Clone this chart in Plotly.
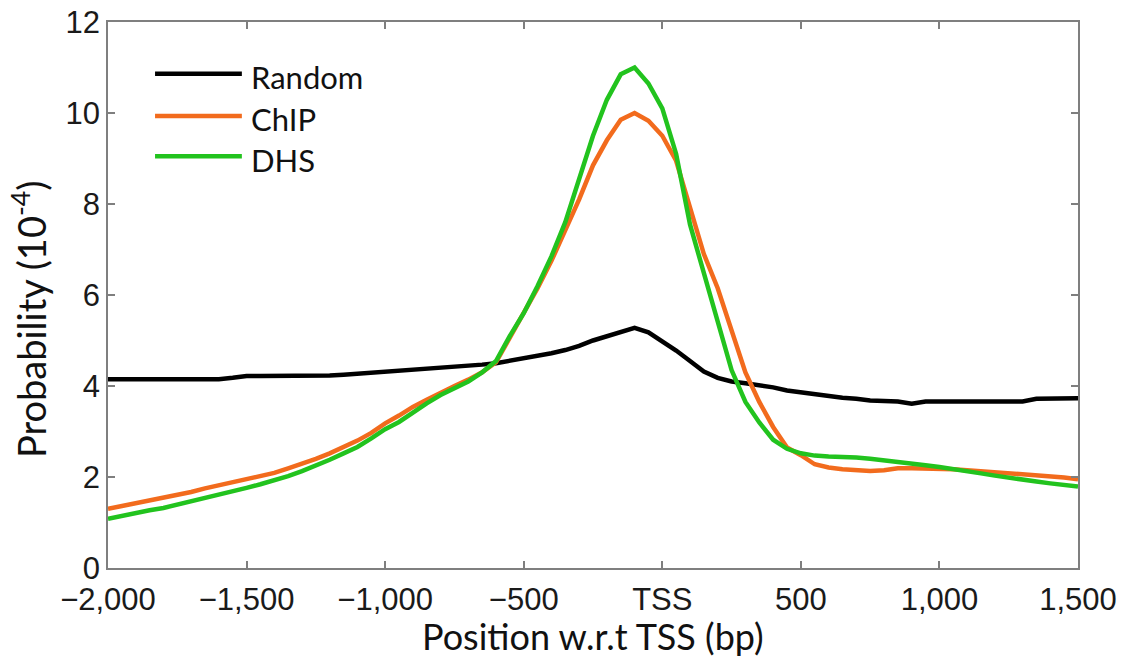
import plotly.graph_objects as go

# ---------------- data ----------------
positions = list(range(-2000, 1501, 50))

random_vals = [
    4.15, 4.15, 4.15, 4.15, 4.15, 4.15, 4.15, 4.15, 4.15, 4.18,   # -2000 .. -1550
    4.22, 4.22, 4.22, 4.22, 4.22, 4.22, 4.23, 4.25, 4.27, 4.29,   # -1500 .. -1050
    4.31, 4.34, 4.36, 4.38, 4.40, 4.42, 4.44, 4.47, 4.50, 4.55,   # -1000 .. -550
    4.60, 4.66, 4.72, 4.79, 4.88, 5.00, 5.10, 5.19, 5.28, 5.18,   # -500 .. -50
    4.98, 4.78, 4.55, 4.32, 4.18, 4.10, 4.06, 4.02, 3.97, 3.90,   # 0 .. 450
    3.86, 3.81, 3.77, 3.74, 3.72, 3.68, 3.67, 3.66, 3.61, 3.66,   # 500 .. 950
    3.66, 3.66, 3.66, 3.66, 3.66, 3.66, 3.66, 3.72, 3.73, 3.73,   # 1000 .. 1450
    3.73,                                                          # 1500
]

chip_vals = [
    1.30, 1.36, 1.42, 1.47, 1.53, 1.60, 1.67, 1.75, 1.82, 1.90,   # -2000 .. -1550
    1.97, 2.03, 2.09, 2.19, 2.29, 2.40, 2.52, 2.65, 2.80, 2.97,   # -1500 .. -1050
    3.18, 3.35, 3.54, 3.70, 3.86, 4.00, 4.14, 4.30, 4.52, 5.05,   # -1000 .. -550
    5.60, 6.15, 6.75, 7.40, 8.10, 8.85, 9.40, 9.85, 10.00, 9.83,  # -500 .. -50
    9.50, 8.95, 7.95, 6.90, 6.15, 5.20, 4.30, 3.65, 3.10, 2.65,   # 0 .. 450
    2.48, 2.28, 2.21, 2.17, 2.14, 2.13, 2.15, 2.19, 2.19, 2.19,   # 500 .. 950
    2.19, 2.17, 2.15, 2.13, 2.11, 2.09, 2.07, 2.04, 2.01, 1.99,   # 1000 .. 1450
    1.95,                                                          # 1500
]

dhs_vals = [
    1.08, 1.15, 1.21, 1.27, 1.32, 1.39, 1.46, 1.53, 1.60, 1.68,   # -2000 .. -1550
    1.76, 1.84, 1.92, 2.02, 2.13, 2.25, 2.38, 2.52, 2.66, 2.85,   # -1500 .. -1050
    3.05, 3.21, 3.42, 3.62, 3.80, 3.96, 4.10, 4.30, 4.55, 5.10,   # -1000 .. -550
    5.60, 6.20, 6.85, 7.60, 8.55, 9.50, 10.29, 10.85, 11.00, 10.65,  # -500 .. -50
    10.10, 9.10, 7.55, 6.50, 5.45, 4.35, 3.65, 3.20, 2.82, 2.62,  # 0 .. 450
    2.52, 2.47, 2.45, 2.45, 2.43, 2.40, 2.37, 2.33, 2.30, 2.26,   # 500 .. 950
    2.22, 2.18, 2.13, 2.08, 2.03, 1.98, 1.94, 1.90, 1.86, 1.82,   # 1000 .. 1450
    1.79,                                                          # 1500
]

series_names = ["Random", "ChIP", "DHS"]
series_colors = ["#000000", "#F26B1D", "#22C31E"]
series_values = [random_vals, chip_vals, dhs_vals]

x_tickvals = [-2000, -1500, -1000, -500, 0, 500, 1000, 1500]
x_ticktext = ["\u22122,000", "\u22121,500", "\u22121,000", "\u2212500", "TSS", "500", "1,000", "1,500"]
y_tickvals = [0, 2, 4, 6, 8, 10, 12]

# ---------------- figure ----------------
fig = go.Figure()
for name, color, vals in zip(series_names, series_colors, series_values):
    fig.add_trace(go.Scatter(x=positions, y=vals, mode="lines", name=name,
                             line=dict(color=color, width=4.5), showlegend=False))

# manual legend (long key lines like the original)
legend_y = [0.905, 0.828, 0.754]
for name, color, ly in zip(series_names, series_colors, legend_y):
    fig.add_shape(type="line", xref="paper", yref="paper",
                  x0=0.0485, x1=0.138, y0=ly, y1=ly,
                  line=dict(color=color, width=4.5))
    fig.add_annotation(xref="paper", yref="paper", x=0.1455, y=ly - 0.006,
                       text=name, showarrow=False, xanchor="left", yanchor="middle",
                       font=dict(family="Lato", size=31, color="#111111"))

# axis titles
fig.add_annotation(xref="paper", yref="paper", x=0.5, y=-0.124,
                   text="Position w.r.t TSS (bp)", showarrow=False,
                   xanchor="center", yanchor="middle",
                   font=dict(family="Lato", size=36, color="#111111"))
fig.add_annotation(xref="paper", yref="paper", x=-0.082, y=0.455,
                   text="Probability (10<sup>-4</sup>)", showarrow=False, textangle=-90,
                   xanchor="center", yanchor="middle",
                   font=dict(family="Lato", size=38, color="#111111"))

axis_common = dict(showgrid=False, zeroline=False, showline=True, linecolor="#7f7f7f",
                   linewidth=1.5, mirror="ticks", ticks="inside", ticklen=7,
                   tickwidth=1.5, tickcolor="#7f7f7f", automargin=False,
                   ticklabeloverflow="allow",
                   tickfont=dict(family="Liberation Sans, Arial", size=31, color="#1a1a1a"))

fig.update_xaxes(range=[-2000, 1500], tickmode="array", tickvals=x_tickvals,
                 ticktext=x_ticktext, ticklabelstandoff=3, **axis_common)
fig.update_yaxes(range=[0, 12], tickmode="array", tickvals=y_tickvals, **axis_common)

# the page adds an 8px body margin, so the figure is 8px smaller and offset accordingly
fig.update_layout(width=1120, height=656, plot_bgcolor="white", paper_bgcolor="white",
                  template="none",
                  margin=dict(l=100, r=50, t=14, b=96, autoexpand=False), showlegend=False)

fig.write_html("out.html")
